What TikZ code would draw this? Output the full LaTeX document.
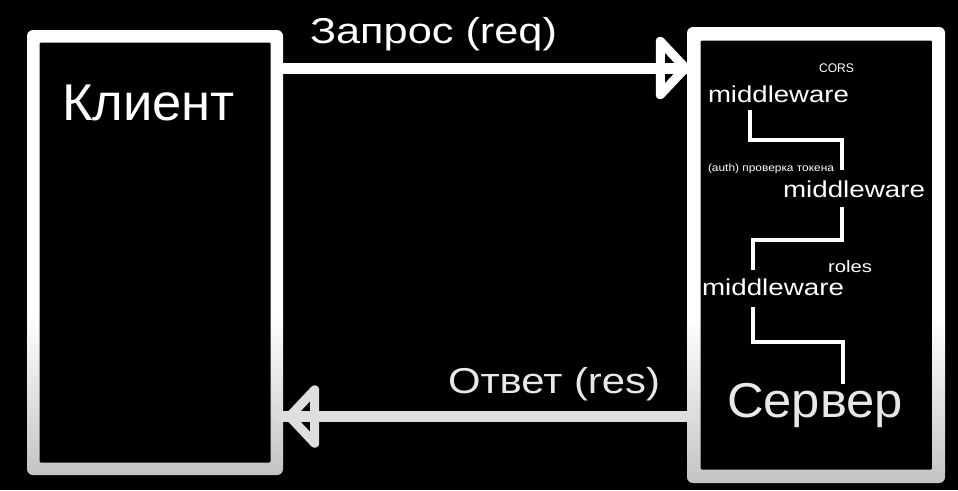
\documentclass[tikz,border=0pt]{standalone}
\usepackage{fontspec}
\usepackage{graphicx}
\setmainfont{Liberation Sans}
\usetikzlibrary{arrows.meta}
\definecolor{boxbot}{RGB}{196,196,196}
\definecolor{resgray}{RGB}{222,222,222}
\definecolor{txtgray}{RGB}{232,232,232}
\pgfdeclareverticalshading{boxgrad}{100bp}{color(0bp)=(boxbot); color(25bp)=(boxbot); color(43bp)=(white); color(100bp)=(white)}
\newcommand{\wt}[3]{\resizebox{#1}{\height}{\fontsize{#2}{#2}\selectfont #3}}
\begin{document}
\begin{tikzpicture}[x=1pt,y=-1pt,
  boxnode/.style={inner sep=0pt, outer sep=0pt, draw=none},
  boxshade/.style={shading=boxgrad, even odd rule},
  lbl/.style={anchor=base west, inner sep=0pt, outer sep=0pt},
  wire/.style={draw=white, line width=4.5pt, miter limit=10},
  shaft/.style={line width=11pt, line cap=round},
  tiphead/.style={line width=11pt, -{Triangle[open, round, length=36pt, width=74pt]}}
]
\useasboundingbox (0,0) rectangle (958,490);
\fill[black] (0,0) rectangle (958,490);

% boxes
\node[boxnode, minimum width=256pt, minimum height=445pt] (client) at (155,252.5) {};
\node[boxnode, minimum width=258pt, minimum height=456pt] (server) at (816,255) {};
\shade[boxshade]
  [rounded corners=6pt] (client.north west) rectangle (client.south east)
  [rounded corners=1pt] ([shift={(12.5,12.5)}]client.north west) rectangle ([shift={(-12.5,-12.5)}]client.south east);
\shade[boxshade]
  [rounded corners=6pt] (server.north west) rectangle (server.south east)
  [rounded corners=1pt] ([shift={(13.5,13.5)}]server.north west) rectangle ([shift={(-13,-13.5)}]server.south east);

% main labels
\node[lbl, text=white] (klient) at (62,120) {\wt{173pt}{51.7}{Клиент}};
\node[lbl, text=txtgray] (server-lbl) at (727,417) {\wt{176pt}{49}{Сервер}};
\node[lbl, text=white] (req-lbl) at (310,43) {\wt{247pt}{36}{Запрос (req)}};
\node[lbl, text=txtgray] (res-lbl) at (448,393) {\wt{212pt}{36}{Ответ (res)}};

% arrows
\coordinate (ry) at (0,68);
\coordinate (sy) at (0,416.5);
\draw[shaft, white] (client.east |- ry) -- (server.west |- ry);
\draw[tiphead, white] (client.east |- ry) -- ([xshift=3pt]server.west |- ry);
\draw[shaft, resgray] (server.west |- sy) -- (client.east |- sy);
\draw[tiphead, resgray] (server.west |- sy) -- ([xshift=2pt]client.east |- sy);

% middleware chain
\node[lbl, text=white] (mw1) at (708,102) {\wt{141pt}{23}{middleware}};
\node[lbl, text=white] (cors) at (819,72) {\wt{35pt}{12.5}{CORS}};
\node[lbl, text=white] (mw2) at (783,197) {\wt{142pt}{23}{middleware}};
\node[lbl, text=white] (auth) at (708,171.5) {\wt{126pt}{10.5}{(auth) проверка токена}};
\node[lbl, text=white] (mw3) at (702,295) {\wt{142pt}{23}{middleware}};
\node[lbl, text=white] (roles) at (828,272) {\wt{44pt}{16.5}{roles}};

\coordinate (w1a) at (750,110);
\coordinate (w1b) at (842,140);
\coordinate (w1c) at (842,170);
\coordinate (w2a) at (842,207);
\coordinate (w2b) at (753,240);
\coordinate (w2c) at (753,270);
\coordinate (w3a) at (753,307);
\coordinate (w3b) at (843,342);
\coordinate (w3c) at (843,384);
\draw[wire] (w1a) |- (w1b) -- (w1c);
\draw[wire] (w2a) |- (w2b) -- (w2c);
\draw[wire] (w3a) |- (w3b) -- (w3c);
\end{tikzpicture}
\end{document}
